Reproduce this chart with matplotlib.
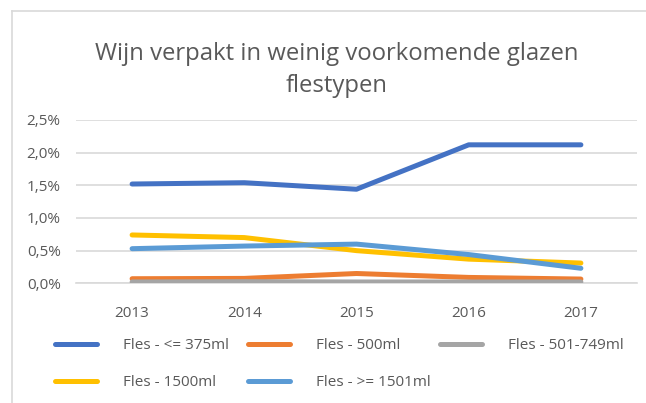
import matplotlib
matplotlib.use("Agg")
import matplotlib.pyplot as plt
from matplotlib.ticker import FuncFormatter, FixedLocator
from matplotlib.lines import Line2D

plt.rcParams['font.family'] = ['Open Sans', 'DejaVu Sans']

years = ['2013', '2014', '2015', '2016', '2017']
fles_le_375 = [1.52, 1.54, 1.44, 2.12, 2.12]
fles_500 = [0.07, 0.075, 0.15, 0.09, 0.065]
fles_501_749 = [0.02, 0.025, 0.02, 0.02, 0.02]
fles_1500 = [0.74, 0.70, 0.50, 0.37, 0.31]
fles_ge_1501 = [0.53, 0.57, 0.60, 0.44, 0.23]

labels = ['Fles - <= 375ml', 'Fles - 500ml', 'Fles - 501-749ml',
          'Fles - 1500ml', 'Fles - >= 1501ml']
series = [fles_le_375, fles_500, fles_501_749, fles_1500, fles_ge_1501]
colors = ['#4472C4', '#ED7D31', '#A5A5A5', '#FFC000', '#5B9BD5']
yticks = [0.0, 0.5, 1.0, 1.5, 2.0, 2.5]

TXT = '#595959'
GRID = '#D9D9D9'
W, H = 646, 403
fig = plt.figure(figsize=(W / 100, H / 100), dpi=100)

# chart border (left and top visible)
fig.add_artist(Line2D([12 / W, 12 / W], [0, 1 - 11 / H], color=GRID, lw=1.2,
                      transform=fig.transFigure))
fig.add_artist(Line2D([12 / W, 1], [1 - 11 / H, 1 - 11 / H], color=GRID, lw=1.2,
                      transform=fig.transFigure))

ax = fig.add_axes([76 / W, 1 - 283.3 / H, (637 - 76) / W, (283.3 - 120) / H])
x = list(range(len(years)))
lines = []
for vals, lab, c in zip(series, labels, colors):
    ln, = ax.plot(x, vals, color=c, lw=3.6, solid_capstyle='round',
                  solid_joinstyle='round', label=lab, zorder=3)
    lines.append(ln)

ax.set_xlim(-0.5, len(years) - 0.5)
ax.set_ylim(0, 2.5)
ax.yaxis.set_major_locator(FixedLocator(yticks))
ax.yaxis.set_major_formatter(FuncFormatter(lambda v, p: f"{v:.1f}%".replace('.', ',')))
ax.set_xticks(x)
ax.set_xticklabels(years)
ax.grid(axis='y', color=GRID, lw=1.2)
ax.set_axisbelow(True)
for s in ['top', 'right', 'left']:
    ax.spines[s].set_visible(False)
ax.spines['bottom'].set_color(GRID)
ax.spines['bottom'].set_linewidth(1.2)
ax.tick_params(axis='both', length=0, colors=TXT, labelsize=11)
ax.tick_params(axis='y', pad=11)
ax.tick_params(axis='x', pad=16)

fig.text(337 / W, 1 - 70 / H, 'Wijn verpakt in weinig voorkomende glazen\nflestypen',
         ha='center', va='center', fontsize=17.2, color=TXT, linespacing=1.4)

# legend: three columns
cols = [([lines[0], lines[3]], 55), ([lines[1], lines[4]], 248), ([lines[2]], 440)]
for hs, xl in cols:
    lg = fig.legend(handles=hs, labels=[h.get_label() for h in hs],
                    loc='upper left', bbox_to_anchor=(xl / W, 1 - 338 / H),
                    frameon=False, fontsize=11, handlelength=2.75,
                    handletextpad=1.7, labelspacing=1.45, borderpad=0,
                    borderaxespad=0, labelcolor=TXT)

fig.savefig('out.png', dpi=100)
